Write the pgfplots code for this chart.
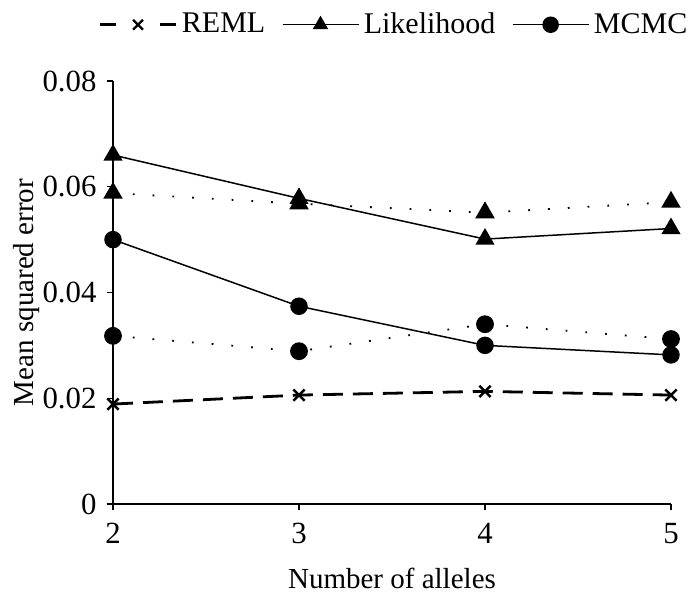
\documentclass[border=0pt]{standalone}
\usepackage{graphicx}
\usepackage{pgfplots}
\pgfplotsset{compat=1.18}
\usetikzlibrary{calc}
\usepackage{fontspec}
\setmainfont{Liberation Serif}
\pgfkeys{/pgf/number format/assume math mode=true}
\pgfplotsset{
  remlimage/.style={legend image code/.code={
    \draw[mark repeat=2, mark phase=2, ##1, dash pattern=on 16pt off 44pt, mark size=7pt] plot coordinates {(0pt,0pt) (38pt,0pt) (76pt,0pt)};
  }}
}
\begin{document}
\fontsize{22}{26}\selectfont
\begin{tikzpicture}
\useasboundingbox (-113pt,-92pt) rectangle (582pt,504pt);
\begin{axis}[
  width=558pt, height=423pt, scale only axis,
  xmin=2, xmax=5, ymin=0, ymax=0.08,
  axis x line=bottom, axis y line=left,
  axis line style={-, line width=1.3pt},
  xtick={2,3,4,5}, ytick={0,0.02,0.04,0.06,0.08},
  scaled y ticks=false,
  tick align=outside, major tick length=6pt,
  tick style={line width=1.3pt, black},
  xticklabel={\scalebox{1.4}{\pgfmathprintnumber[assume math mode=true]{\tick}}},
  yticklabel={\scalebox{1.4}{\pgfmathprintnumber[fixed,precision=2,assume math mode=true]{\tick}}},
  yticklabel style={xshift=-3pt},
  xticklabel style={yshift=-6pt},
  xlabel={Number of alleles}, ylabel={Mean squared error},
  xlabel style={at={($(rel axis cs:0.5,0)+(0,-84pt)$)}, anchor=base, font=\fontsize{29}{34}\selectfont},
  ylabel style={at={($(rel axis cs:0,0.5)+(-86pt,0)$)}, anchor=center, font=\fontsize{29}{34}\selectfont},
  clip=false,
  legend style={draw=none, fill=none, at={(rel axis cs:1.0376,1.1726)}, anchor=north east,
    legend columns=-1, inner sep=0pt,
    nodes={inner sep=4.5pt},
    /tikz/every even column/.append style={column sep=12pt},
    font=\fontsize{30}{34}\selectfont},
  legend image code/.code={
    \draw[mark repeat=2, mark phase=2, #1, mark size=7.5pt] plot coordinates {(0pt,0pt) (38pt,0pt) (76pt,0pt)};
  },
]
\addplot[black, line width=2.8pt, dash pattern=on 20pt off 10pt, mark=x, mark size=8pt, mark options={solid, line width=2.4pt}, remlimage]
  coordinates {(2,0.0189) (3,0.0206) (4,0.0213) (5,0.0206)};
\addlegendentry{REML}
\addplot[black, line width=1.5pt, mark=triangle*, mark size=9.5pt, mark options={solid}]
  coordinates {(2,0.0660) (3,0.0578) (4,0.0501) (5,0.0521)};
\addlegendentry{Likelihood}
\addplot[black, line width=1.5pt, mark=*, mark size=8pt, mark options={solid}]
  coordinates {(2,0.0500) (3,0.0374) (4,0.0300) (5,0.0282)};
\addlegendentry{MCMC}
\addplot[black, line width=1.8pt, dash pattern=on 1.8pt off 18pt, mark=triangle*, mark size=9.5pt, mark options={solid}, forget plot]
  coordinates {(2,0.0588) (3,0.0568) (4,0.0551) (5,0.0571)};
\addplot[black, line width=1.8pt, dash pattern=on 1.8pt off 18pt, mark=*, mark size=8pt, mark options={solid}, forget plot]
  coordinates {(2,0.0318) (3,0.0289) (4,0.0340) (5,0.0312)};
\end{axis}
\end{tikzpicture}
\end{document}
